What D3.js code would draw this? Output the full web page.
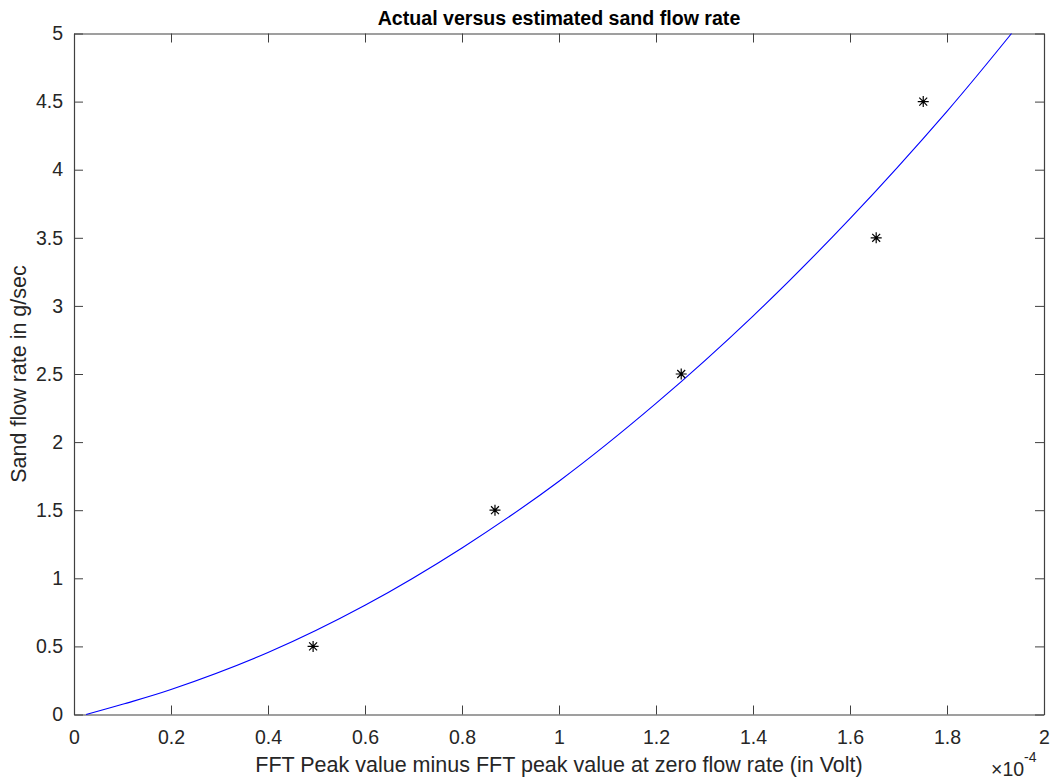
<!DOCTYPE html>
<html>
<head>
<meta charset="utf-8">
<script src="https://cdn.jsdelivr.net/npm/d3@7"></script>
<style>
  html, body { margin: 0; padding: 0; background: #fff; }
  svg text { font-family: "Liberation Sans", Arial, Helvetica, sans-serif; }
</style>
</head>
<body>
<svg id="chart" width="1053" height="781"></svg>
<script>
// Measured sand flow rates (x in units of 1e-4 V)
const measuredX = [0.493, 0.868, 1.252, 1.654, 1.751];
const measuredY = [0.5, 1.5, 2.5, 3.5, 4.5];

// Estimated (fitted) sand flow rate curve
const fitX = [0.025, 0.1, 0.2, 0.4, 0.6, 0.8, 1.0, 1.2, 1.4, 1.6, 1.8, 1.933];
const fitY = [0.0, 0.075, 0.183, 0.455, 0.802, 1.223, 1.713, 2.284, 2.925, 3.641, 4.429, 5.0];

// Axis ticks
const xTicks = [0, 0.2, 0.4, 0.6, 0.8, 1, 1.2, 1.4, 1.6, 1.8, 2];
const yTicks = [0, 0.5, 1, 1.5, 2, 2.5, 3, 3.5, 4, 4.5, 5];

const titleText = "Actual versus estimated sand flow rate";
const xLabelText = "FFT Peak value minus FFT peak value at zero flow rate (in Volt)";
const yLabelText = "Sand flow rate in g/sec";

const svg = d3.select("#chart");
const plotLeft = 74, plotRight = 1044, plotTop = 33.5, plotBottom = 714.5;

const x = d3.scaleLinear().domain([0, 2]).range([plotLeft, plotRight]);
const y = d3.scaleLinear().domain([0, 5]).range([plotBottom, plotTop]);

const axisColor = "#404040";
const textColor = "#262626";
const tickLen = 9;
const tickFont = 19.5;
const labelFont = 21.5;

// Box-style axes with inward ticks on all four sides
const gBottom = svg.append("g").attr("transform", `translate(0,${plotBottom})`)
  .call(d3.axisBottom(x).tickValues(xTicks).tickSizeInner(-tickLen).tickSizeOuter(0)
    .tickPadding(16).tickFormat(d3.format("~g")));
const gTop = svg.append("g").attr("transform", `translate(0,${plotTop})`)
  .call(d3.axisTop(x).tickValues(xTicks).tickSizeInner(-tickLen).tickSizeOuter(0).tickFormat(""));
const gLeft = svg.append("g").attr("transform", `translate(${plotLeft},0)`)
  .call(d3.axisLeft(y).tickValues(yTicks).tickSizeInner(-tickLen).tickSizeOuter(0)
    .tickPadding(11).tickFormat(d3.format("~g")));
const gRight = svg.append("g").attr("transform", `translate(${plotRight},0)`)
  .call(d3.axisRight(y).tickValues(yTicks).tickSizeInner(-tickLen).tickSizeOuter(0).tickFormat(""));

[gBottom, gTop, gLeft, gRight].forEach(g => {
  g.attr("font-size", null).attr("font-family", null);
  g.select(".domain").attr("stroke", axisColor).attr("stroke-width", 1.2);
  g.selectAll(".tick line").attr("stroke", axisColor).attr("stroke-width", 1);
  g.selectAll(".tick text").attr("fill", textColor)
    .style("font-size", tickFont + "px")
    .style("font-family", "'Liberation Sans', Arial, sans-serif");
});
gBottom.selectAll(".tick text").attr("dy", "0.71em");

// Estimated curve
const line = d3.line().x(d => x(d[0])).y(d => y(d[1])).curve(d3.curveCatmullRom.alpha(0.5));
svg.append("path")
  .datum(d3.zip(fitX, fitY))
  .attr("d", line)
  .attr("fill", "none")
  .attr("stroke", "#0000ff")
  .attr("stroke-width", 1.1);

// Measured points as asterisk markers
const r = 5.5;
const star = (() => {
  const p = d3.path();
  p.moveTo(-r, 0); p.lineTo(r, 0);
  p.moveTo(0, -r); p.lineTo(0, r);
  const q = r * 0.72;
  p.moveTo(-q, -q); p.lineTo(q, q);
  p.moveTo(-q, q); p.lineTo(q, -q);
  return p.toString();
})();
svg.append("g").selectAll("path")
  .data(d3.zip(measuredX, measuredY))
  .join("path")
  .attr("transform", d => `translate(${x(d[0])},${y(d[1])})`)
  .attr("d", star)
  .attr("fill", "none")
  .attr("stroke", "#000")
  .attr("stroke-width", 1.2);

// Title
svg.append("text")
  .attr("x", (plotLeft + plotRight) / 2).attr("y", 25)
  .attr("text-anchor", "middle")
  .attr("fill", "#000")
  .style("font-weight", "bold")
  .style("font-size", "19.6px")
  .text(titleText);

// Axis labels
svg.append("text")
  .attr("x", (plotLeft + plotRight) / 2).attr("y", 772)
  .attr("text-anchor", "middle")
  .attr("fill", textColor)
  .style("font-size", labelFont + "px")
  .text(xLabelText);

svg.append("text")
  .attr("transform", `translate(25.5,${(plotTop + plotBottom) / 2}) rotate(-90)`)
  .attr("text-anchor", "middle")
  .attr("fill", textColor)
  .style("font-size", labelFont + "px")
  .text(yLabelText);

// Exponent multiplier for the x axis
const expo = svg.append("text")
  .attr("x", 991).attr("y", 776)
  .attr("fill", textColor)
  .style("font-size", tickFont + "px");
expo.append("tspan").text("\u00d710");
expo.append("tspan").attr("dy", -14).style("font-size", "14px").text("-4");
</script>
</body>
</html>
